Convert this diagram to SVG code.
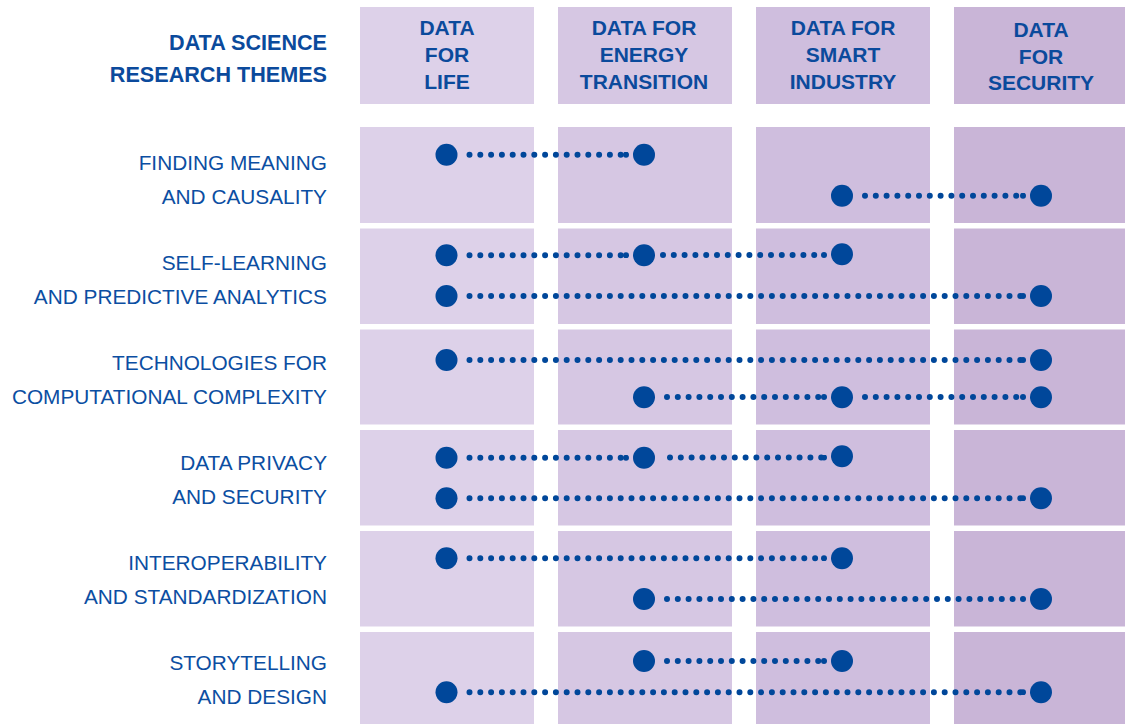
<svg xmlns="http://www.w3.org/2000/svg" width="1125" height="724" viewBox="0 0 1125 724">
<defs>
<style>
.c1{fill:#DDD1E9}.c2{fill:#D6C7E3}.c3{fill:#CFBEDE}.c4{fill:#C9B5D7}
.hd{font-family:"Liberation Sans",Arial,sans-serif;font-weight:bold;font-size:21px;fill:#0B4A9C;text-anchor:middle}
.ttl{font-family:"Liberation Sans",Arial,sans-serif;font-weight:bold;font-size:21.6px;fill:#0B4A9C;text-anchor:end}
.lb{font-family:"Liberation Sans",Arial,sans-serif;font-size:20.8px;fill:#0B4EA2;text-anchor:end}
.dot{fill:#00479A}
.ln{stroke:#00479A;stroke-width:6;stroke-linecap:round;stroke-dasharray:0 10.8;fill:none;marker-end:url(#end)}
</style>
<marker id="end" viewBox="-3 -3 6 6" markerWidth="6" markerHeight="6" markerUnits="userSpaceOnUse" refX="0" refY="0">
<circle cx="0" cy="0" r="3" fill="#00479A"/>
</marker>
</defs>
<rect width="1125" height="724" fill="#ffffff"/>

<g id="grid">
<rect class="c1" x="360" y="7" width="174" height="97"/>
<rect class="c2" x="558" y="7" width="174" height="97"/>
<rect class="c3" x="756" y="7" width="174" height="97"/>
<rect class="c4" x="954" y="7" width="171" height="97"/>

<rect class="c1" x="360" y="127" width="174" height="96"/>
<rect class="c2" x="558" y="127" width="174" height="96"/>
<rect class="c3" x="756" y="127" width="174" height="96"/>
<rect class="c4" x="954" y="127" width="171" height="96"/>

<rect class="c1" x="360" y="228.5" width="174" height="95.5"/>
<rect class="c2" x="558" y="228.5" width="174" height="95.5"/>
<rect class="c3" x="756" y="228.5" width="174" height="95.5"/>
<rect class="c4" x="954" y="228.5" width="171" height="95.5"/>

<rect class="c1" x="360" y="329.5" width="174" height="95"/>
<rect class="c2" x="558" y="329.5" width="174" height="95"/>
<rect class="c3" x="756" y="329.5" width="174" height="95"/>
<rect class="c4" x="954" y="329.5" width="171" height="95"/>

<rect class="c1" x="360" y="430" width="174" height="95.5"/>
<rect class="c2" x="558" y="430" width="174" height="95.5"/>
<rect class="c3" x="756" y="430" width="174" height="95.5"/>
<rect class="c4" x="954" y="430" width="171" height="95.5"/>

<rect class="c1" x="360" y="531" width="174" height="95.5"/>
<rect class="c2" x="558" y="531" width="174" height="95.5"/>
<rect class="c3" x="756" y="531" width="174" height="95.5"/>
<rect class="c4" x="954" y="531" width="171" height="95.5"/>

<rect class="c1" x="360" y="632" width="174" height="92"/>
<rect class="c2" x="558" y="632" width="174" height="92"/>
<rect class="c3" x="756" y="632" width="174" height="92"/>
<rect class="c4" x="954" y="632" width="171" height="92"/>
</g>

<g id="title">
<text class="ttl" x="327" y="49.5">DATA SCIENCE</text>
<text class="ttl" x="327" y="82">RESEARCH THEMES</text>
</g>

<g id="col-life">
<text class="hd" x="447" y="34.5">DATA</text>
<text class="hd" x="447" y="62">FOR</text>
<text class="hd" x="447" y="88.5">LIFE</text>
</g>
<g id="col-energy">
<text class="hd" x="644" y="34.5">DATA FOR</text>
<text class="hd" x="644" y="62">ENERGY</text>
<text class="hd" x="644" y="88.5">TRANSITION</text>
</g>
<g id="col-industry">
<text class="hd" x="843" y="34.5">DATA FOR</text>
<text class="hd" x="843" y="62">SMART</text>
<text class="hd" x="843" y="88.5">INDUSTRY</text>
</g>
<g id="col-security">
<text class="hd" x="1041" y="36.5">DATA</text>
<text class="hd" x="1041" y="63.5">FOR</text>
<text class="hd" x="1041" y="90">SECURITY</text>
</g>

<g id="row-meaning">
<text class="lb" x="327" y="170">FINDING MEANING</text>
<text class="lb" x="327" y="203.5">AND CAUSALITY</text>
</g>
<g id="row-learning">
<text class="lb" x="327" y="270">SELF-LEARNING</text>
<text class="lb" x="327" y="304">AND PREDICTIVE ANALYTICS</text>
</g>
<g id="row-complexity">
<text class="lb" x="327" y="370">TECHNOLOGIES FOR</text>
<text class="lb" x="327" y="403.5">COMPUTATIONAL COMPLEXITY</text>
</g>
<g id="row-privacy">
<text class="lb" x="327" y="470">DATA PRIVACY</text>
<text class="lb" x="327" y="504">AND SECURITY</text>
</g>
<g id="row-interop">
<text class="lb" x="327" y="570">INTEROPERABILITY</text>
<text class="lb" x="327" y="604">AND STANDARDIZATION</text>
</g>
<g id="row-story">
<text class="lb" x="327" y="669.5">STORYTELLING</text>
<text class="lb" x="327" y="704">AND DESIGN</text>
</g>

<g id="connectors">
<line class="ln" x1="469.5" y1="154.7" x2="626" y2="154.7"/>
<line class="ln" x1="865" y1="195.7" x2="1023" y2="195.7"/>

<line class="ln" x1="469.5" y1="255.3" x2="626" y2="255.3"/>
<line class="ln" x1="663" y1="255" x2="824" y2="255"/>
<line class="ln" x1="469.5" y1="296" x2="1023" y2="296"/>

<line class="ln" x1="469.5" y1="360" x2="1023" y2="360"/>
<line class="ln" x1="667" y1="397" x2="824" y2="397"/>
<line class="ln" x1="865" y1="397" x2="1023" y2="397"/>

<line class="ln" x1="469.5" y1="457.8" x2="626" y2="457.8"/>
<line class="ln" x1="670" y1="457.5" x2="824" y2="457.5"/>
<line class="ln" x1="469.5" y1="498.3" x2="1023" y2="498.3"/>

<line class="ln" x1="469.5" y1="558.3" x2="824" y2="558.3"/>
<line class="ln" x1="667" y1="599" x2="1023" y2="599"/>

<line class="ln" x1="667" y1="661" x2="824" y2="661"/>
<line class="ln" x1="469.5" y1="692.3" x2="1023" y2="692.3"/>
</g>

<g id="dots">
<circle class="dot" cx="446.5" cy="154.7" r="11"/>
<circle class="dot" cx="644" cy="154.7" r="11"/>
<circle class="dot" cx="842" cy="195.7" r="11"/>
<circle class="dot" cx="1041" cy="195.7" r="11"/>

<circle class="dot" cx="446.5" cy="255.3" r="11"/>
<circle class="dot" cx="644" cy="255.3" r="11"/>
<circle class="dot" cx="842" cy="254.3" r="11"/>
<circle class="dot" cx="446.5" cy="296" r="11"/>
<circle class="dot" cx="1041" cy="296" r="11"/>

<circle class="dot" cx="446.5" cy="360" r="11"/>
<circle class="dot" cx="1041" cy="360" r="11"/>
<circle class="dot" cx="644" cy="397.3" r="11"/>
<circle class="dot" cx="842" cy="397.3" r="11"/>
<circle class="dot" cx="1041" cy="397.3" r="11"/>

<circle class="dot" cx="446.5" cy="457.8" r="11"/>
<circle class="dot" cx="644" cy="457.8" r="11"/>
<circle class="dot" cx="842" cy="456.3" r="11"/>
<circle class="dot" cx="446.5" cy="498.3" r="11"/>
<circle class="dot" cx="1041" cy="498.3" r="11"/>

<circle class="dot" cx="446.5" cy="558.3" r="11"/>
<circle class="dot" cx="842" cy="558.3" r="11"/>
<circle class="dot" cx="644" cy="599" r="11"/>
<circle class="dot" cx="1041" cy="599" r="11"/>

<circle class="dot" cx="644" cy="661" r="11"/>
<circle class="dot" cx="842" cy="661" r="11"/>
<circle class="dot" cx="446.5" cy="692.3" r="11"/>
<circle class="dot" cx="1041" cy="692.3" r="11"/>
</g>
</svg>
